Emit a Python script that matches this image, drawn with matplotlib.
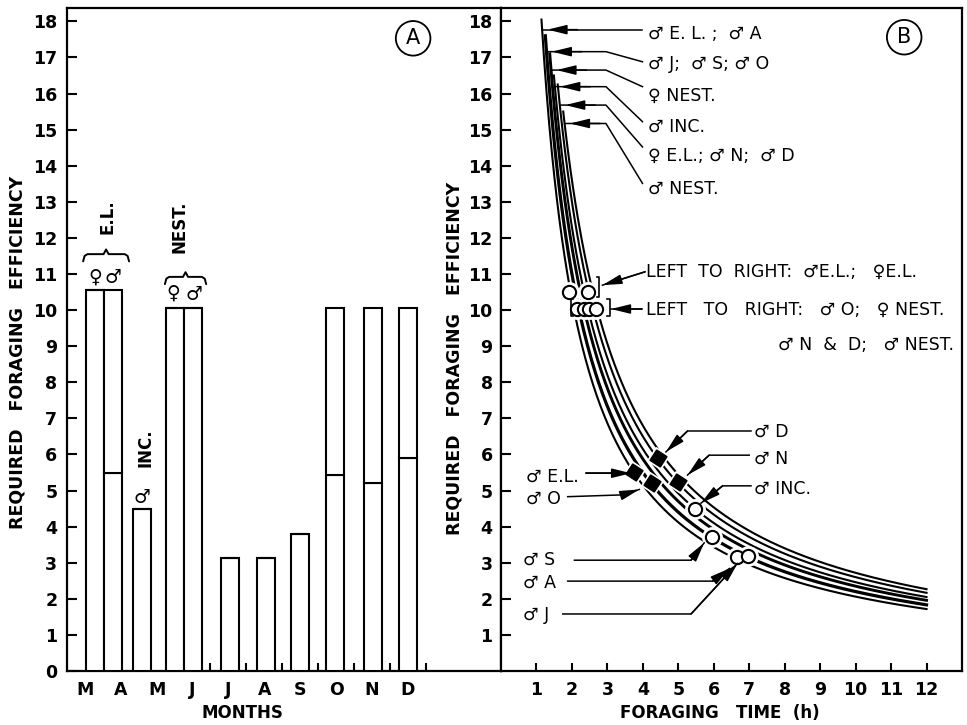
import numpy as np
import matplotlib
matplotlib.use("Agg")
import matplotlib.pyplot as plt

plt.rcParams.update({
    "font.family": ["DejaVu Sans"],
    "font.size": 12,
    "axes.linewidth": 1.6,
    "xtick.major.width": 1.5,
    "ytick.major.width": 1.5,
    "xtick.minor.width": 1.5,
})

# ── Panel A data: required efficiency by month ───────────────────────────────
month_labels = ["M", "A", "M", "J", "J", "A", "S", "O", "N", "D"]
bar_names = ["F E.L.", "M E.L.", "M INC.", "F NEST.", "M NEST.",
             "J", "A", "S", "O", "N", "D"]
bar_heights = [10.55, 10.55, 4.5, 10.05, 10.05, 3.12, 3.12, 3.8, 10.05, 10.05, 10.05]
bar_divides = [np.nan, 5.48, np.nan, np.nan, np.nan,
               np.nan, np.nan, np.nan, 5.43, 5.22, 5.9]
bar_x = [0.28, 0.78, 1.6, 2.5, 3.0, 4.04, 5.05, 6.0, 6.98, 8.03, 9.02]

# ── Panel B data: isolines of efficiency x foraging time ────────────────────
curve_names = ["♂ E. L. ;  ♂ A", "♂ J;  ♂ S; ♂ O", "♀ NEST.", "♂ INC.",
               "♀ E.L.; ♂ N;  ♂ D", "♂ NEST."]
curve_const = [20.6, 22.0, 23.5, 24.6, 26.0, 27.2]
curve_top = [18.05, 17.6, 17.1, 16.5, 16.25, 15.5]
curve_lw = [1.5, 2.3, 2.1, 1.5, 1.5, 1.5]

circle_t = [1.91, 2.46, 2.14, 2.33, 2.49, 2.69, 5.48, 5.95, 6.66, 6.96]
circle_e = [10.51, 10.49, 10.03, 10.03, 10.03, 10.03, 4.48, 3.72, 3.15, 3.19]
diamond_t = [3.76, 4.25, 4.42, 5.00]
diamond_e = [5.52, 5.22, 5.89, 5.24]

YMAX = 18.37
FS = 12.5


def brace(ax, x0, x1, y, h=0.2):
    xm = (x0 + x1) / 2
    xs = [x0, x0 + 0.04, x0 + 0.12, xm - 0.07, xm, xm + 0.07, x1 - 0.12, x1 - 0.04, x1]
    ys = [y - h, y - 0.05, y, y, y + 0.13, y, y, y - 0.05, y - h]
    ax.plot(xs, ys, color="k", lw=1.4, solid_capstyle="round", zorder=5)


def leader(ax, pts, lw=1.1):
    xs, ys = zip(*pts)
    ax.plot(xs, ys, color="k", lw=lw, zorder=6)
    ax.annotate("", xy=pts[-1], xytext=pts[-2],
                arrowprops=dict(arrowstyle="-|>,head_length=0.9,head_width=0.22",
                                color="k", lw=lw, shrinkA=0, shrinkB=0,
                                mutation_scale=13),
                zorder=6)


fig = plt.figure(figsize=(9.67, 7.25), dpi=100)
axA = fig.add_axes([67 / 967, 54 / 725, 434 / 967, 663 / 725])
axB = fig.add_axes([501 / 967, 54 / 725, 461 / 967, 663 / 725])

# ── Panel A ───────────────────────────────────────────────────────────────────
lower = [d if not np.isnan(d) else h for d, h in zip(bar_divides, bar_heights)]
upper = [h - lo for h, lo in zip(bar_heights, lower)]
axA.bar(bar_x, lower, width=0.5, color="white", edgecolor="k", linewidth=1.5, zorder=3)
axA.bar(bar_x, upper, bottom=lower, width=0.5, color="white", edgecolor="k",
        linewidth=1.5, zorder=3)

axA.set_xlim(-0.5, 11.6)
axA.set_ylim(0, YMAX)
axA.set_xticks(range(len(month_labels)))
axA.set_xticklabels(month_labels, fontweight="bold", fontsize=FS)
axA.set_xticks(np.arange(3.5, 10, 1.0), minor=True)
axA.tick_params(axis="x", which="major", length=0, pad=7)
axA.tick_params(axis="x", which="minor", direction="in", length=6)
axA.set_yticks(range(0, 19))
axA.set_yticklabels([str(v) for v in range(0, 19)], fontweight="bold", fontsize=FS)
axA.tick_params(axis="y", direction="in", length=7, pad=7)
axA.set_xlabel("MONTHS", fontweight="bold", fontsize=12)
axA.xaxis.set_label_coords(0.405, -0.050)
axA.set_ylabel("REQUIRED   FORAGING   EFFICIENCY", fontweight="bold", fontsize=FS)
axA.yaxis.set_label_coords(-0.094, 0.48)

# sex symbols and group labels over the bars
for x, s, y in [(0.28, "♀", 10.91), (0.78, "♂", 10.91), (2.46, "♀", 10.47),
                (3.04, "♂", 10.42), (1.59, "♂", 4.82)]:
    axA.text(x, y, s, ha="center", va="center", fontsize=13.5, fontweight="bold")
brace(axA, -0.05, 1.23, 11.55)
brace(axA, 2.23, 3.38, 10.92)
axA.text(0.62, 12.58, "E.L.", rotation=90, ha="center", va="center", fontweight="bold")
axA.text(2.65, 12.3, "NEST.", rotation=90, ha="center", va="center", fontweight="bold")
axA.text(1.70, 6.18, "INC.", rotation=90, ha="center", va="center", fontweight="bold")
axA.text(9.15, 17.53, "A", ha="center", va="center", fontsize=15,
         bbox=dict(boxstyle="circle,pad=0.35", fc="white", ec="k", lw=1.3))

# ── Panel B ───────────────────────────────────────────────────────────────────
for k, top, lw in zip(curve_const, curve_top, curve_lw):
    t = np.linspace(k / top, 12, 300)
    axB.plot(t, k / t, color="k", lw=lw, zorder=2)

# white halos break the curves around the markers
axB.plot(circle_t, circle_e, "o", ms=14, color="white", mec="white", zorder=3)
axB.plot(diamond_t, diamond_e, marker=(4, 0, 12), ls="none", ms=16, color="white",
         mec="white", zorder=3)
axB.plot(circle_t, circle_e, "o", ms=9.5, mfc="white", mec="k", mew=1.5, zorder=4)
axB.plot(diamond_t, diamond_e, marker=(4, 0, 12), ls="none", ms=12.5, color="k",
         zorder=4)

axB.set_xlim(0, 13.0)
axB.set_ylim(0, YMAX)
axB.set_xticks(range(1, 13))
axB.set_xticklabels([str(v) for v in range(1, 13)], fontweight="bold", fontsize=FS)
axB.tick_params(axis="x", direction="in", length=6, pad=7)
axB.set_yticks(range(1, 19))
axB.set_yticklabels([str(v) for v in range(1, 19)], fontweight="bold", fontsize=FS)
axB.tick_params(axis="y", direction="in", length=7, pad=6)
axB.set_xlabel("FORAGING   TIME  (h)", fontweight="bold", fontsize=12)
axB.xaxis.set_label_coords(0.475, -0.050)
axB.set_ylabel("REQUIRED   FORAGING   EFFICIENCY", fontweight="bold", fontsize=FS)
axB.yaxis.set_label_coords(-0.082, 0.472)
axB.text(11.37, 17.56, "B", ha="center", va="center", fontsize=15,
         bbox=dict(boxstyle="circle,pad=0.35", fc="white", ec="k", lw=1.3))

# labels for the curves, leader lines run in from the right
arrow_y = [17.77, 17.16, 16.65, 16.19, 15.68, 15.17]
text_y = [17.66, 16.81, 15.93, 15.08, 14.27, 13.36]
start_y = [17.77, 16.88, 16.19, 15.22, 14.52, 13.51]
for i, (name, k) in enumerate(zip(curve_names, curve_const)):
    cx = k / arrow_y[i]
    if i == 0:
        pts = [(3.99, start_y[i]), (cx, arrow_y[i])]
    else:
        pts = [(3.99, start_y[i]), (2.96, arrow_y[i]), (cx, arrow_y[i])]
    xs, ys = zip(*pts)
    axB.plot(xs, ys, color="k", lw=1.1, zorder=6)
    axB.annotate("", xy=(cx + 0.15, arrow_y[i]), xytext=(cx + 1.0, arrow_y[i]),
                 arrowprops=dict(arrowstyle="-|>,head_length=0.9,head_width=0.22",
                                 color="k", lw=1.1, shrinkA=0, shrinkB=0,
                                 mutation_scale=13), zorder=6)
    axB.text(4.15, text_y[i], name, ha="left", va="center", fontsize=FS, zorder=6)

# brackets round the circle cluster
axB.plot([2.70, 2.77, 2.77, 2.70], [10.92, 10.92, 10.37, 10.37], color="k", lw=1.2, zorder=5)
axB.plot([2.03, 1.97, 1.97, 2.03], [10.30, 10.30, 9.84, 9.84], color="k", lw=1.2, zorder=5)
axB.plot([3.00, 3.06, 3.06, 3.00], [10.30, 10.30, 9.84, 9.84], color="k", lw=1.2, zorder=5)
leader(axB, [(4.06, 11.06), (2.86, 10.69)])
leader(axB, [(3.97, 10.03), (3.10, 10.03)])
axB.text(4.1, 11.05, "LEFT  TO  RIGHT:  ♂E.L.;   ♀E.L.", ha="left", va="center",
         fontsize=FS)
axB.text(4.1, 10.0, "LEFT   TO   RIGHT:   ♂ O;   ♀ NEST.", ha="left", va="center",
         fontsize=FS)
axB.text(12.77, 9.03, "♂ N  &  D;   ♂ NEST.", ha="right", va="center", fontsize=FS)

# labels for individual points
point_labels = [
    ("♂ E.L.", (0.70, 5.37), [(2.40, 5.48), (3.67, 5.48)]),
    ("♂ O", (0.70, 4.76), [(1.88, 4.83), (3.43, 4.88), (3.90, 5.03)]),
    ("♂ S", (0.61, 3.07), [(2.07, 3.07), (5.36, 3.07), (5.73, 3.55)]),
    ("♂ A", (0.61, 2.45), [(1.88, 2.49), (5.97, 2.49), (6.44, 2.84)]),
    ("♂ J", (0.61, 1.55), [(1.74, 1.58), (5.36, 1.58), (6.67, 2.98)]),
    ("♂ D", (7.14, 6.63), [(7.05, 6.65), (5.26, 6.65), (4.65, 6.07)]),
    ("♂ N", (7.14, 5.89), [(7.0, 5.98), (5.87, 5.98), (5.26, 5.43)]),
    ("♂ INC.", (7.14, 5.06), [(7.05, 5.13), (6.25, 5.13), (5.64, 4.65)]),
]
for name, (tx, ty), pts in point_labels:
    axB.text(tx, ty, name, ha="left", va="center", fontsize=FS, zorder=6)
    leader(axB, pts)

fig.savefig("out.png", dpi=100)
